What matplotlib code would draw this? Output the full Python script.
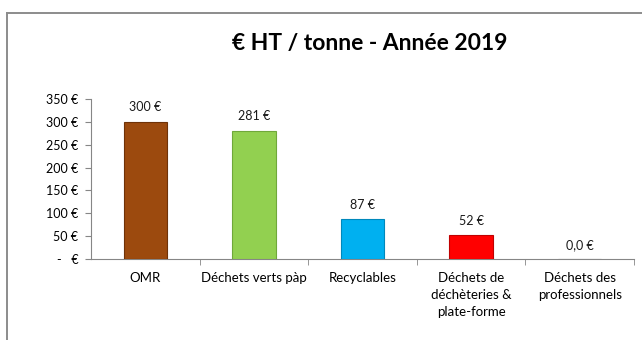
import matplotlib
matplotlib.use('Agg')
import matplotlib.pyplot as plt
from matplotlib.lines import Line2D

plt.rcParams['font.family'] = ['Lato', 'DejaVu Sans']

categories = ['OMR', 'Déchets verts pàp', 'Recyclables',
              'Déchets de\ndéchèteries &\nplate-forme', 'Déchets des\nprofessionnels']
cost_per_tonne = [300, 281, 87, 52, 0]
bar_colors = ['#9C4A0E', '#92D050', '#00B0F0', '#FF0000', '#7F7F7F']
edge_colors = ['#6E3208', '#6FA83A', '#0088BB', '#C00000', '#5F5F5F']
y_ticks = [0, 50, 100, 150, 200, 250, 300, 350]


def euro(v):
    if v == 0:
        return '0,0 €'
    return f'{v:.0f} €'


fig = plt.figure(figsize=(6.42, 3.40), dpi=100)
ax = fig.add_axes([0.1417, 0.238, 0.8458, 0.471])

x = range(len(categories))
bars = ax.bar(x, cost_per_tonne, width=0.40, color=bar_colors,
              edgecolor=edge_colors, linewidth=0.8, zorder=3)

for xi, v in zip(x, cost_per_tonne):
    ax.annotate(euro(v), (xi, v), xytext=(0, 6), textcoords='offset points',
                ha='center', va='bottom', fontsize=9, color='#1a1a1a')

ax.set_xlim(-0.5, len(categories) - 0.5)
ax.set_ylim(0, 350)
ax.set_yticks(y_ticks)
ax.set_yticklabels([f'{t} €' if t else '-   €' for t in y_ticks])

# category labels centred, tick marks between categories
ax.set_xticks(list(x))
ax.set_xticklabels(categories, fontsize=9.5, linespacing=1.5, va='top')
ax.tick_params(axis='x', length=0, pad=9.5)
ax.set_xticks([i + 0.5 for i in range(len(categories))], minor=True)
ax.tick_params(axis='x', which='minor', length=4, color='#868686', direction='out')
ax.tick_params(axis='y', labelsize=9, length=4, color='#868686', pad=5)

for side in ('top', 'right'):
    ax.spines[side].set_visible(False)
for side in ('left', 'bottom'):
    ax.spines[side].set_color('#868686')
    ax.spines[side].set_linewidth(0.8)

fig.text(0.576, 0.873, '€ HT / tonne - Année 2019', ha='center', va='center',
         fontsize=16.5, fontweight='bold', color='black')

# chart frame (left and top edges)
fig.add_artist(Line2D([0.0102, 0.0102], [0.0, 0.962], transform=fig.transFigure,
                      color='#8c8c8c', linewidth=1.4))
fig.add_artist(Line2D([0.0102, 1.0], [0.962, 0.962], transform=fig.transFigure,
                      color='#8c8c8c', linewidth=1.4))

fig.savefig('out.png', dpi=100)
plt.close(fig)
